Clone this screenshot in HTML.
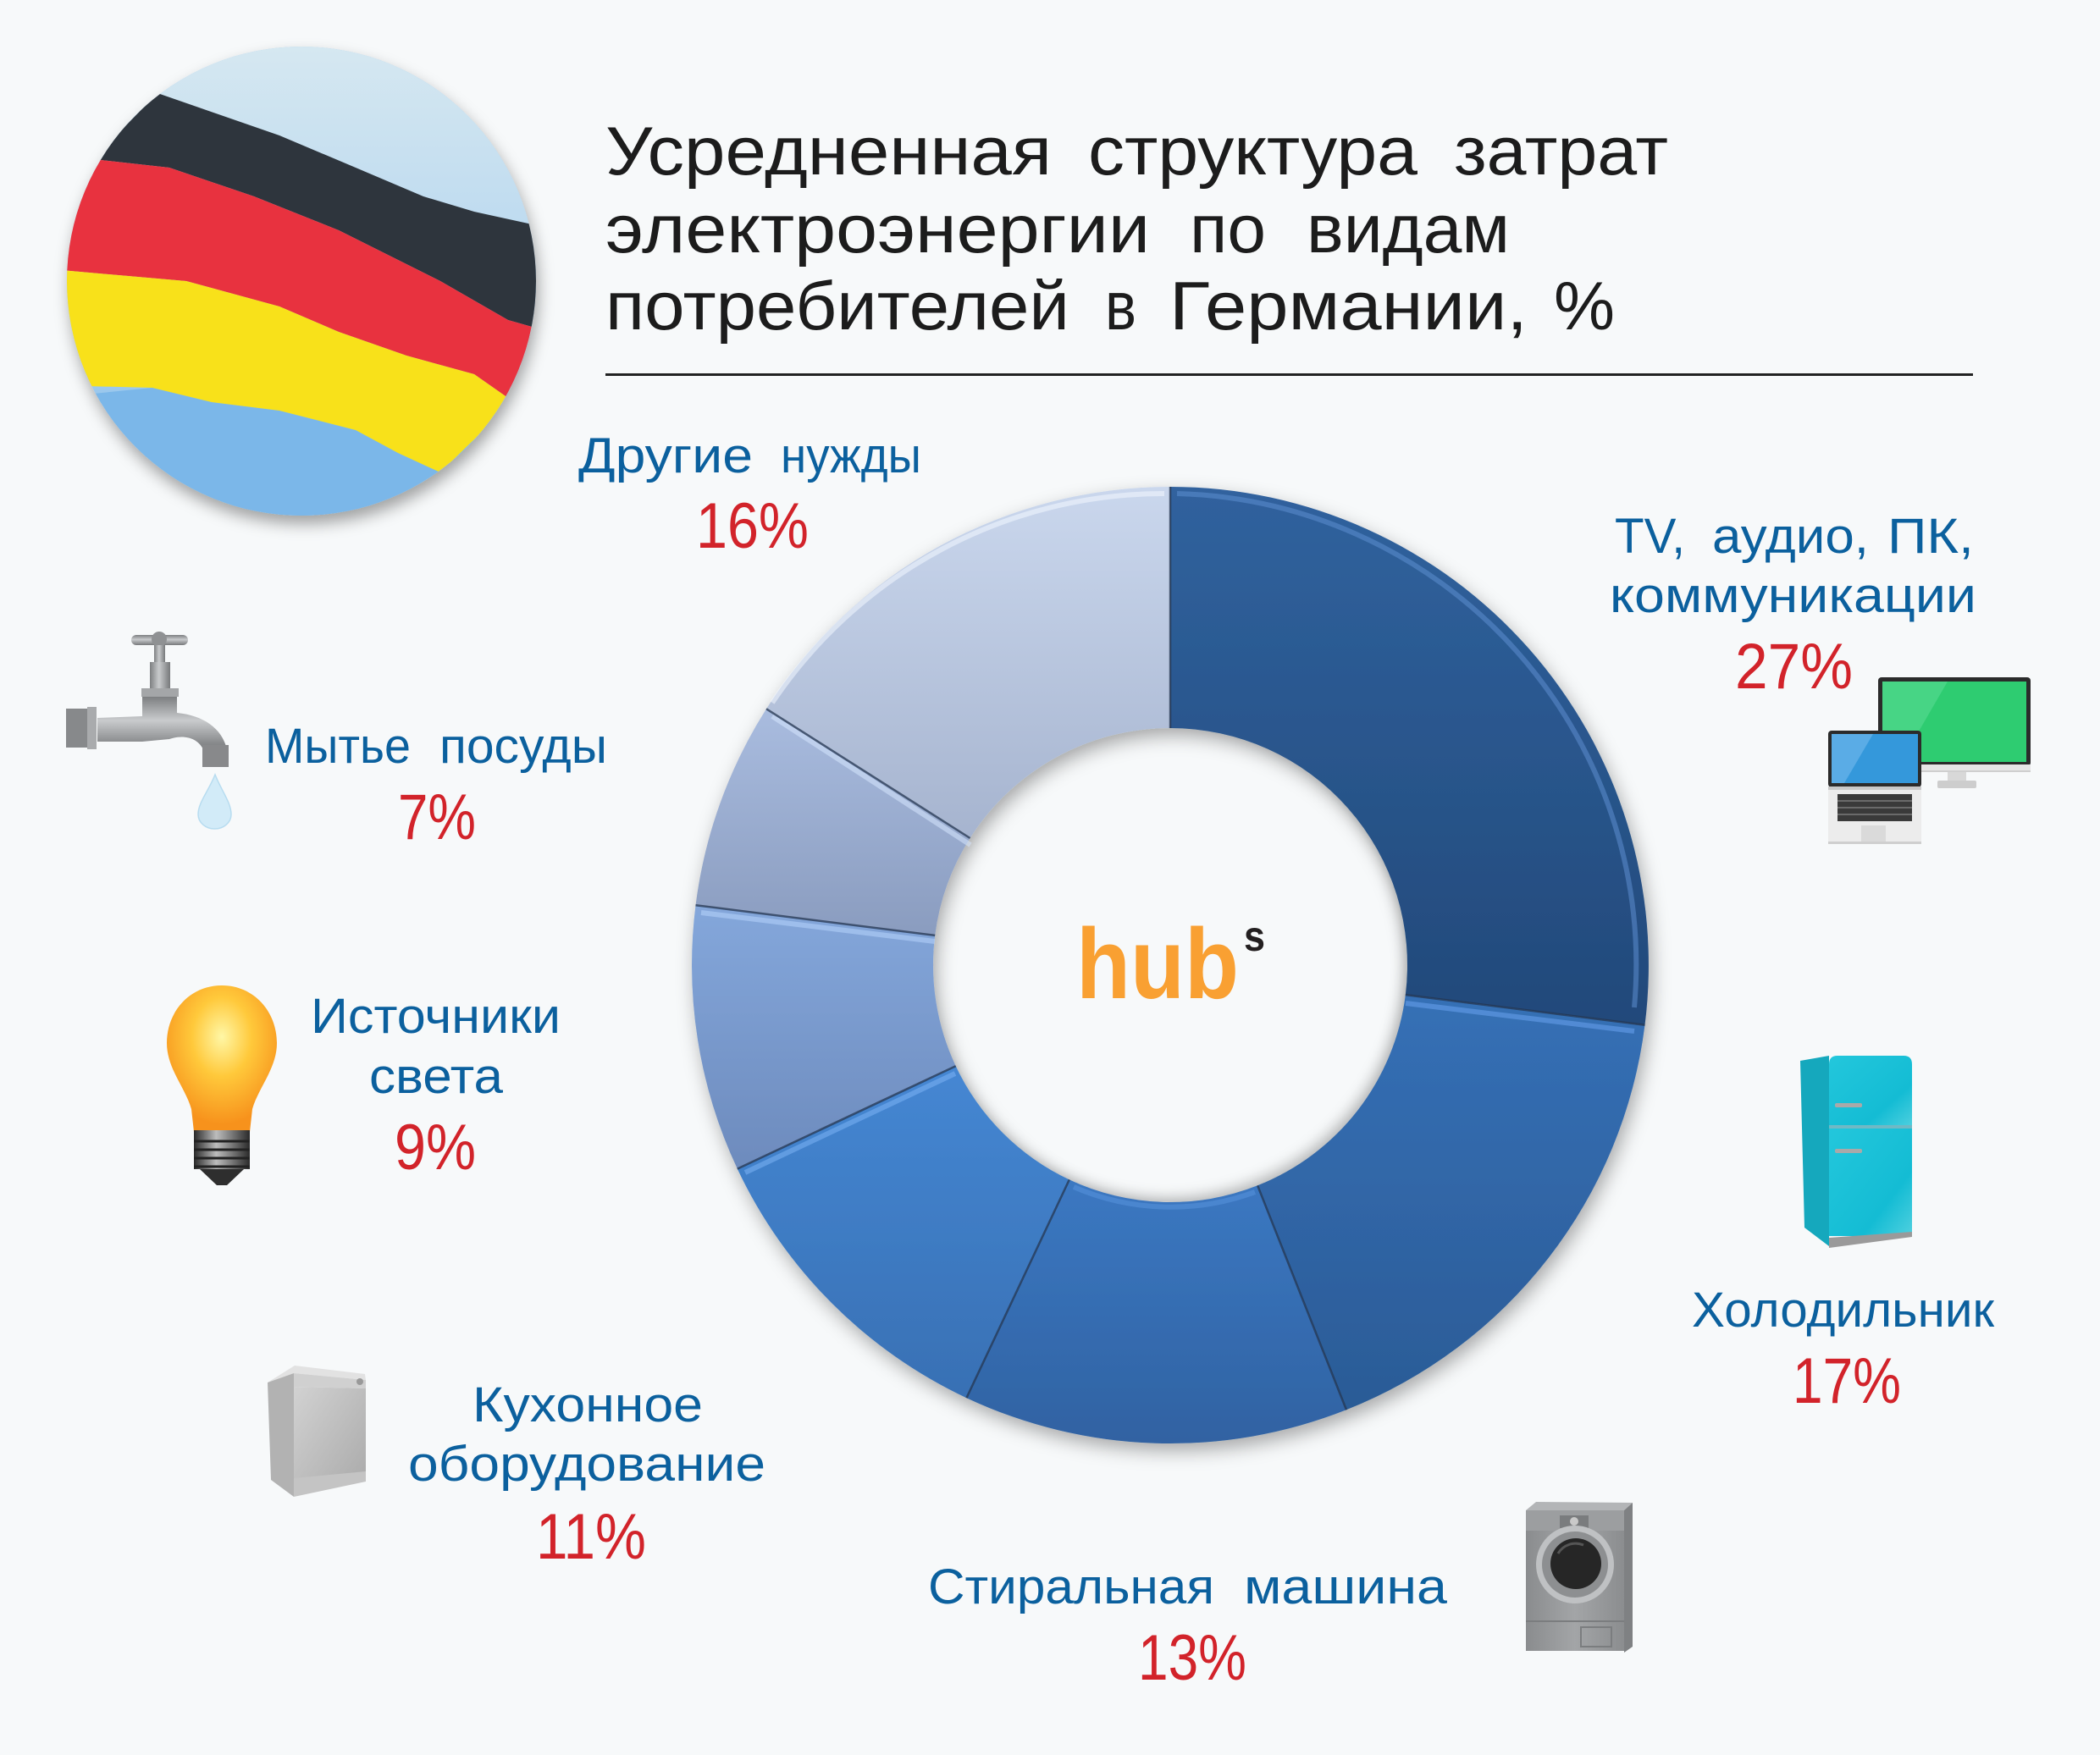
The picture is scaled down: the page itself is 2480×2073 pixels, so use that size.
<!DOCTYPE html>
<html><head><meta charset="utf-8"><style>
html,body{margin:0;padding:0;background:#f7f9fa;}
svg{display:block;}
text{font-family:"Liberation Sans","DejaVu Sans",sans-serif;}
</style></head><body>
<svg xmlns="http://www.w3.org/2000/svg" width="2480" height="2073" viewBox="0 0 2480 2073">
<defs>
  <filter id="sh" x="-20%" y="-20%" width="140%" height="140%">
    <feDropShadow dx="4" dy="9" stdDeviation="11" flood-color="#000" flood-opacity="0.32"/>
  </filter>
  <filter id="sh2" x="-20%" y="-20%" width="140%" height="140%">
    <feDropShadow dx="3" dy="10" stdDeviation="9" flood-color="#000" flood-opacity="0.35"/>
  </filter>
  <filter id="blur8" x="-20%" y="-20%" width="140%" height="140%"><feGaussianBlur stdDeviation="8"/></filter>
  <clipPath id="flagclip"><circle cx="356" cy="332" r="277"/></clipPath>
  <clipPath id="holeclip"><circle cx="1382" cy="1140" r="280"/></clipPath>
  <linearGradient id="sky" x1="0" y1="0" x2="0" y2="1">
    <stop offset="0" stop-color="#d6e8f1"/><stop offset="0.5" stop-color="#b7d7ef"/><stop offset="1" stop-color="#78b6ea"/>
  </linearGradient>
  <linearGradient id="gTV" x1="0" y1="0" x2="0" y2="1"><stop offset="0" stop-color="#30629e"/><stop offset="1" stop-color="#22497a"/></linearGradient>
  <linearGradient id="gFr" x1="0" y1="0" x2="0" y2="1"><stop offset="0" stop-color="#3570b6"/><stop offset="1" stop-color="#2b5b96"/></linearGradient>
  <linearGradient id="gWa" x1="0" y1="0" x2="0" y2="1"><stop offset="0" stop-color="#3b78c2"/><stop offset="1" stop-color="#3062a2"/></linearGradient>
  <linearGradient id="gKi" x1="0" y1="0" x2="0" y2="1"><stop offset="0" stop-color="#4587d3"/><stop offset="1" stop-color="#3870b4"/></linearGradient>
  <linearGradient id="gLi" x1="0" y1="0" x2="0" y2="1"><stop offset="0" stop-color="#84a7db"/><stop offset="1" stop-color="#6d8bbd"/></linearGradient>
  <linearGradient id="gDi" x1="0" y1="0" x2="0" y2="1"><stop offset="0" stop-color="#a9bcdf"/><stop offset="1" stop-color="#8a9cbf"/></linearGradient>
  <linearGradient id="gOt" x1="0" y1="0" x2="0" y2="1"><stop offset="0" stop-color="#cad7ed"/><stop offset="1" stop-color="#a6b4cf"/></linearGradient>
  <linearGradient id="metal" x1="0" y1="0" x2="0" y2="1"><stop offset="0" stop-color="#7d7f81"/><stop offset="0.45" stop-color="#c9cbcd"/><stop offset="1" stop-color="#76787a"/></linearGradient>
  <linearGradient id="metalH" x1="0" y1="0" x2="1" y2="0"><stop offset="0" stop-color="#7d7f81"/><stop offset="0.45" stop-color="#c9cbcd"/><stop offset="1" stop-color="#76787a"/></linearGradient>
  <radialGradient id="bulbG" cx="0.5" cy="0.35" r="0.6"><stop offset="0" stop-color="#fff7a6"/><stop offset="0.45" stop-color="#ffc93b"/><stop offset="1" stop-color="#f7921c"/></radialGradient>
  <linearGradient id="screwG" x1="0" y1="0" x2="1" y2="0"><stop offset="0" stop-color="#2a2a2a"/><stop offset="0.4" stop-color="#bdbdbd"/><stop offset="1" stop-color="#2a2a2a"/></linearGradient>
  <linearGradient id="dwF" x1="0" y1="0" x2="1" y2="1"><stop offset="0" stop-color="#d2d2d2"/><stop offset="1" stop-color="#a9a9a9"/></linearGradient>
  <linearGradient id="frF" x1="0" y1="0" x2="1" y2="1"><stop offset="0" stop-color="#23c7dc"/><stop offset="0.7" stop-color="#14bcd4"/><stop offset="1" stop-color="#4fd0df"/></linearGradient>
  <linearGradient id="wmF" x1="0" y1="0" x2="1" y2="0"><stop offset="0" stop-color="#8a8c8e"/><stop offset="0.5" stop-color="#a3a5a7"/><stop offset="1" stop-color="#8b8d8f"/></linearGradient>
</defs>

<rect x="0" y="0" width="2480" height="2073" fill="#f7f9fa"/>

<!-- Flag circle -->
<circle cx="356" cy="332" r="277" fill="#9cc7ea" filter="url(#sh2)"/>
<g clip-path="url(#flagclip)">
  <rect x="70" y="50" width="580" height="570" fill="url(#sky)"/>
  <polygon points="60,470 180,458 250,475 330,485 420,508 470,535 520,558 600,480 660,470 660,640 60,640" fill="#7bb7e9"/>
  <polygon points="186,110 330,160 420,198 500,232 560,250 660,272 660,395 600,378 520,332 400,272 300,232 200,198 110,188" fill="#2e353d"/>
  <polygon points="110,188 200,198 300,232 400,272 520,332 600,378 660,395 660,470 600,470 560,442 480,420 400,392 330,362 220,332 60,318" fill="#e8323f"/>
  <polygon points="60,318 220,332 330,362 400,392 480,420 560,442 600,470 660,470 600,480 520,558 470,535 420,508 330,485 250,475 180,458 60,455" fill="#f8e11a"/>
</g>

<!-- Title -->
<g fill="#1c1c1c" font-size="81">
  <text x="715" y="206" textLength="527" lengthAdjust="spacingAndGlyphs">Усредненная</text>
  <text x="1285" y="206" textLength="389" lengthAdjust="spacingAndGlyphs">структура</text>
  <text x="1717" y="206" textLength="253" lengthAdjust="spacingAndGlyphs">затрат</text>
  <text x="715" y="298" textLength="643" lengthAdjust="spacingAndGlyphs">электроэнергии</text>
  <text x="1405" y="298" textLength="90" lengthAdjust="spacingAndGlyphs">по</text>
  <text x="1543" y="298" textLength="240" lengthAdjust="spacingAndGlyphs">видам</text>
  <text x="715" y="389" textLength="548" lengthAdjust="spacingAndGlyphs">потребителей</text>
  <text x="1305" y="389" textLength="37" lengthAdjust="spacingAndGlyphs">в</text>
  <text x="1381" y="389" textLength="423" lengthAdjust="spacingAndGlyphs">Германии,</text>
  <text x="1835" y="389" textLength="72" lengthAdjust="spacingAndGlyphs">%</text>
</g>
<rect x="715" y="441" width="1615" height="3" fill="#222"/>

<!-- Donut -->
<g filter="url(#sh)">
  <path d="M1382,575 A565,565 0 0 1 1942.5,1210.8 L1659.8,1175.1 A280,280 0 0 0 1382,860 Z" fill="url(#gTV)"/>
  <path d="M1942.5,1210.8 A565,565 0 0 1 1590,1665.3 L1485.1,1400.3 A280,280 0 0 0 1659.8,1175.1 Z" fill="url(#gFr)"/>
  <path d="M1590,1665.3 A565,565 0 0 1 1141.4,1651.2 L1262.8,1393.4 A280,280 0 0 0 1485.1,1400.3 Z" fill="url(#gWa)"/>
  <path d="M1141.4,1651.2 A565,565 0 0 1 870.8,1380.6 L1128.7,1259.2 A280,280 0 0 0 1262.8,1393.4 Z" fill="url(#gKi)"/>
  <path d="M870.8,1380.6 A565,565 0 0 1 821.5,1069.2 L1104.2,1104.9 A280,280 0 0 0 1128.7,1259.2 Z" fill="url(#gLi)"/>
  <path d="M821.5,1069.2 A565,565 0 0 1 905,837.3 L1145.6,990 A280,280 0 0 0 1104.2,1104.9 Z" fill="url(#gDi)"/>
  <path d="M905,837.3 A565,565 0 0 1 1382,575 L1382,860 A280,280 0 0 0 1145.6,990 Z" fill="url(#gOt)"/>
</g>
<!-- shadow inside hole -->
<g clip-path="url(#holeclip)">
  <circle cx="1376" cy="1132" r="292" fill="none" stroke="#000" stroke-opacity="0.22" stroke-width="18" filter="url(#blur8)"/>
</g>
<!-- bevel highlights -->
<g fill="none" stroke-width="6" opacity="0.55">
  <path d="M1390,583 A557,557 0 0 1 1930,1190" stroke="#5d8fd0"/>
  <path d="M1660,1185 L1930,1218" stroke="#69a3ee"/>
  <path d="M1482,1408 A288,288 0 0 1 1268,1402" stroke="#6aa6f0" opacity="0.6"/>
  <path d="M880,1385 L1128,1268" stroke="#7cb3f5"/>
  <path d="M828,1078 L1104,1112" stroke="#b6d3fb"/>
  <path d="M912,846 L1146,998" stroke="#d6e6fd"/>
  <path d="M912,830 A557,557 0 0 1 1375,583" stroke="#f2f7ff"/>
</g>
<g stroke="#243650" stroke-width="2.5" opacity="0.75">
  <line x1="1382" y1="575" x2="1382" y2="860"/>
  <line x1="1942.5" y1="1210.8" x2="1659.8" y2="1175.1"/>
  <line x1="1590" y1="1665.3" x2="1485.1" y2="1400.3"/>
  <line x1="1141.4" y1="1651.2" x2="1262.8" y2="1393.4"/>
  <line x1="870.8" y1="1380.6" x2="1128.7" y2="1259.2"/>
  <line x1="821.5" y1="1069.2" x2="1104.2" y2="1104.9"/>
  <line x1="905" y1="837.3" x2="1145.6" y2="990"/>
</g>

<!-- hub logo -->
<text x="1271" y="1179" font-size="118" font-weight="bold" fill="#f9a032" textLength="192" lengthAdjust="spacingAndGlyphs">hub</text>
<text x="1469" y="1123" font-size="50" font-weight="bold" fill="#231f20" textLength="25" lengthAdjust="spacingAndGlyphs">s</text>

<!-- Labels -->
<g fill="#0b609e" font-size="58">
  <text x="683" y="558" textLength="206" lengthAdjust="spacingAndGlyphs">Другие</text>
  <text x="922" y="558" textLength="166" lengthAdjust="spacingAndGlyphs">нужды</text>

  <text x="1907" y="653" textLength="83" lengthAdjust="spacingAndGlyphs">TV,</text>
  <text x="2022" y="653" textLength="185" lengthAdjust="spacingAndGlyphs">аудио,</text>
  <text x="2229" y="653" textLength="102" lengthAdjust="spacingAndGlyphs">ПК,</text>
  <text x="1901" y="723" textLength="433" lengthAdjust="spacingAndGlyphs">коммуникации</text>

  <text x="313" y="901" textLength="172" lengthAdjust="spacingAndGlyphs">Мытье</text>
  <text x="519" y="901" textLength="198" lengthAdjust="spacingAndGlyphs">посуды</text>

  <text x="367" y="1220" textLength="295" lengthAdjust="spacingAndGlyphs">Источники</text>
  <text x="436" y="1291" textLength="158" lengthAdjust="spacingAndGlyphs">света</text>

  <text x="558" y="1679" textLength="272" lengthAdjust="spacingAndGlyphs">Кухонное</text>
  <text x="482" y="1749" textLength="422" lengthAdjust="spacingAndGlyphs">оборудование</text>

  <text x="1096" y="1894" textLength="338" lengthAdjust="spacingAndGlyphs">Стиральная</text>
  <text x="1469" y="1894" textLength="240" lengthAdjust="spacingAndGlyphs">машина</text>

  <text x="1998" y="1567" textLength="357" lengthAdjust="spacingAndGlyphs">Холодильник</text>
</g>
<g fill="#d2232a" font-size="76">
  <text x="822" y="647" textLength="133" lengthAdjust="spacingAndGlyphs">16%</text>
  <text x="2049" y="813" textLength="139" lengthAdjust="spacingAndGlyphs">27%</text>
  <text x="470" y="991" textLength="92" lengthAdjust="spacingAndGlyphs">7%</text>
  <text x="466" y="1381" textLength="96" lengthAdjust="spacingAndGlyphs">9%</text>
  <text x="633" y="1841" textLength="130" lengthAdjust="spacingAndGlyphs">11%</text>
  <text x="1344" y="1984" textLength="128" lengthAdjust="spacingAndGlyphs">13%</text>
  <text x="2117" y="1657" textLength="128" lengthAdjust="spacingAndGlyphs">17%</text>
</g>

<!-- Computer icon -->
<g>
  <rect x="2218" y="800" width="180" height="105" rx="4" fill="#2b2b2b"/>
  <rect x="2223" y="805" width="170" height="95" fill="#2ecc71"/>
  <polygon points="2223,805 2300,805 2245,900 2223,900" fill="#47d585"/>
  <rect x="2218" y="903" width="180" height="9" fill="#e6e6e6"/>
  <rect x="2218" y="910" width="180" height="2" fill="#cfcfcf"/>
  <rect x="2300" y="912" width="22" height="12" fill="#d8d8d8"/>
  <rect x="2288" y="922" width="46" height="9" rx="2" fill="#cdcdcd"/>
  <rect x="2159" y="863" width="110" height="67" rx="4" fill="#2b2b2b"/>
  <rect x="2163" y="867" width="102" height="58" fill="#3498db"/>
  <polygon points="2163,867 2212,867 2178,925 2163,925" fill="#5aace6"/>
  <rect x="2159" y="929" width="110" height="68" rx="3" fill="#ececec"/>
  <rect x="2159" y="929" width="110" height="4" fill="#c9c9c9"/>
  <rect x="2170" y="938" width="88" height="32" fill="#3a3a3a"/>
  <g stroke="#9a9a9a" stroke-width="1">
    <line x1="2170" y1="946" x2="2258" y2="946"/><line x1="2170" y1="954" x2="2258" y2="954"/><line x1="2170" y1="962" x2="2258" y2="962"/>
  </g>
  <rect x="2198" y="975" width="29" height="19" fill="#dadada"/>
  <rect x="2159" y="994" width="110" height="3" fill="#cfcfcf"/>
</g>

<!-- Faucet -->
<g>
  <rect x="155" y="750" width="67" height="12" rx="6" fill="url(#metal)"/>
  <circle cx="188" cy="755" r="9" fill="#8f9193"/>
  <rect x="182" y="762" width="13" height="22" fill="url(#metalH)"/>
  <rect x="177" y="782" width="24" height="33" fill="url(#metalH)"/>
  <rect x="167" y="813" width="44" height="10" fill="#a4a6a8"/>
  <path d="M115,848 L168,846 L168,823 L209,823 L209,842 C240,845 262,860 268,885 L240,885 C232,870 215,868 200,873 L168,876 L115,876 Z" fill="url(#metal)"/>
  <rect x="239" y="880" width="31" height="26" fill="#88898b"/>
  <rect x="78" y="837" width="30" height="46" fill="#87898b"/>
  <rect x="103" y="835" width="11" height="50" fill="#a9abad"/>
  <path d="M254,915 C246,935 234,948 234,962 A19.5,17 0 0 0 273,962 C273,948 262,935 254,915 Z" fill="#d2ebf8" stroke="#b7dcf0" stroke-width="1.5"/>
</g>

<!-- Bulb -->
<g>
  <path d="M262,1164 C300,1164 327,1195 327,1232 C327,1262 305,1285 298,1310 L295,1337 L229,1337 L226,1310 C219,1285 197,1262 197,1232 C197,1195 224,1164 262,1164 Z" fill="url(#bulbG)"/>
  <rect x="229" y="1335" width="66" height="46" fill="url(#screwG)"/>
  <g stroke="#222" stroke-width="3">
    <line x1="229" y1="1348" x2="295" y2="1348"/><line x1="229" y1="1358" x2="295" y2="1358"/><line x1="229" y1="1368" x2="295" y2="1368"/><line x1="229" y1="1378" x2="295" y2="1378"/>
  </g>
  <path d="M236,1381 L288,1381 L268,1400 L256,1400 Z" fill="#2e2e2e"/>
</g>

<!-- Dishwasher -->
<g>
  <polygon points="316,1633 348,1613 431,1623 432,1630 347,1622" fill="#e2e2e2"/>
  <polygon points="347,1622 432,1630 432,1640 347,1638" fill="#d0d0d0"/>
  <polygon points="347,1638 432,1640 432,1745 347,1764" fill="url(#dwF)"/>
  <polygon points="316,1633 347,1622 347,1768 320,1748" fill="#b2b2b2"/>
  <polygon points="347,1746 432,1738 432,1750 347,1768" fill="#c4c4c4"/>
  <circle cx="425" cy="1632" r="4" fill="#999"/>
</g>

<!-- Fridge -->
<g>
  <polygon points="2126,1253 2160,1247 2160,1472 2131,1450" fill="#15a8bd"/>
  <path d="M2160,1332 L2160,1257 Q2160,1247 2170,1247 L2248,1247 Q2258,1247 2258,1257 L2258,1330 Z" fill="url(#frF)"/>
  <rect x="2160" y="1332" width="98" height="128" fill="url(#frF)"/>
  <rect x="2160" y="1329" width="98" height="4" fill="#6fb9c5"/>
  <polygon points="2160,1462 2258,1455 2258,1461 2160,1474" fill="#9a9a9a"/>
  <rect x="2167" y="1303" width="32" height="5" rx="2" fill="#a9a9a9"/>
  <rect x="2167" y="1357" width="32" height="5" rx="2" fill="#a9a9a9"/>
</g>

<!-- Washing machine -->
<g>
  <polygon points="1802,1784 1814,1774 1928,1775 1918,1784" fill="#b3b5b7"/>
  <rect x="1802" y="1784" width="116" height="166" fill="url(#wmF)"/>
  <polygon points="1918,1784 1928,1775 1928,1945 1918,1952" fill="#7f8183"/>
  <rect x="1802" y="1784" width="116" height="24" fill="#9c9ea0"/>
  <rect x="1842" y="1790" width="34" height="15" fill="#7a7c7e"/>
  <circle cx="1859" cy="1797" r="5" fill="#c9c9c9"/>
  <circle cx="1860" cy="1848" r="46" fill="#bfc1c3"/>
  <circle cx="1860" cy="1848" r="39" fill="#8d8f91"/>
  <circle cx="1861" cy="1847" r="30" fill="#262626"/>
  <path d="M1840,1835 A24,24 0 0 1 1870,1825" stroke="#555" stroke-width="3" fill="none"/>
  <line x1="1802" y1="1915" x2="1918" y2="1915" stroke="#7b7d7f" stroke-width="2"/>
  <rect x="1867" y="1922" width="36" height="23" fill="none" stroke="#7b7d7f" stroke-width="2"/>
</g>
</svg>
</body></html>
